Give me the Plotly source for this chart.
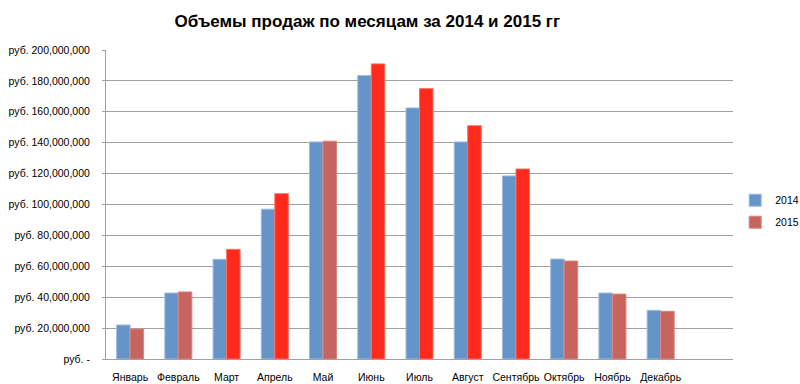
import plotly.graph_objects as go

months = ["Январь", "Февраль", "Март", "Апрель", "Май", "Июнь", "Июль",
          "Август", "Сентябрь", "Октябрь", "Ноябрь", "Декабрь"]
sales_2014 = [22.0, 42.7, 64.5, 97.0, 140.5, 183.5, 162.5, 140.5, 118.5, 64.7, 42.7, 31.5]
sales_2015 = [19.4, 43.4, 71.0, 107.0, 141.0, 191.0, 175.0, 151.0, 123.0, 63.4, 42.0, 30.9]
sales_2014 = [v * 1e6 for v in sales_2014]
sales_2015 = [v * 1e6 for v in sales_2015]
highlight_2015 = [False, False, True, True, False, True, True, True, True, False, False, False]

y_ticks = [i * 20_000_000 for i in range(11)]
y_labels = ["руб. -"] + ["руб. {:,}".format(v) for v in y_ticks[1:]]

x = list(range(len(months)))
blue = "#6494C8"
red_muted = "#C8645F"
red_bright = "#FF2A1C"
colors_2015 = [red_bright if h else red_muted for h in highlight_2015]
lines_2015 = ["#FF7060" if h else "#D8847F" for h in highlight_2015]

fig = go.Figure()
fig.add_trace(go.Bar(x=x, y=sales_2014, name="2014", legendgroup="a",
                     marker=dict(color=blue, line=dict(color="#9CBCE0", width=1))))
fig.add_trace(go.Bar(x=x, y=sales_2015, name="2015", legendgroup="b",
                     marker=dict(color=colors_2015, line=dict(color=lines_2015, width=1))))

fig.update_layout(
    width=800, height=384,
    margin=dict(l=106, r=67, t=50, b=25, autoexpand=False),
    paper_bgcolor="white", plot_bgcolor="white",
    barmode="group", bargap=0.44, bargroupgap=0,
    font=dict(family="Liberation Sans", size=10.5, color="black"),
    title=dict(text="<b>Объемы продаж по месяцам за 2014 и 2015 гг</b>",
               x=0.459, xref="container", xanchor="center",
               y=0.945, yref="container", yanchor="middle",
               font=dict(family="Liberation Sans", size=17, color="black")),
    legend=dict(x=0.919, y=0.45, xref="container", yref="container",
                xanchor="left", yanchor="middle",
                font=dict(size=10.5), tracegroupgap=3),
    xaxis=dict(range=[-0.5, 12.5], tickvals=x, ticktext=months,
               showgrid=False, showline=True, linecolor="#A0A0A0", linewidth=1,
               ticks="", zeroline=False, automargin=False, ticklabelstandoff=8),
    yaxis=dict(range=[0, 200_000_000], tickvals=y_ticks, ticktext=y_labels,
               showgrid=True, gridcolor="#A0A0A0", gridwidth=1,
               showline=True, linecolor="#A0A0A0", linewidth=1,
               ticks="outside", ticklen=3, tickcolor="#A0A0A0", zeroline=False,
               automargin=False, ticklabelstandoff=10),
)

fig.write_html("out.html", config={"displayModeBar": False},
               post_script="document.body.style.margin='0px';")
